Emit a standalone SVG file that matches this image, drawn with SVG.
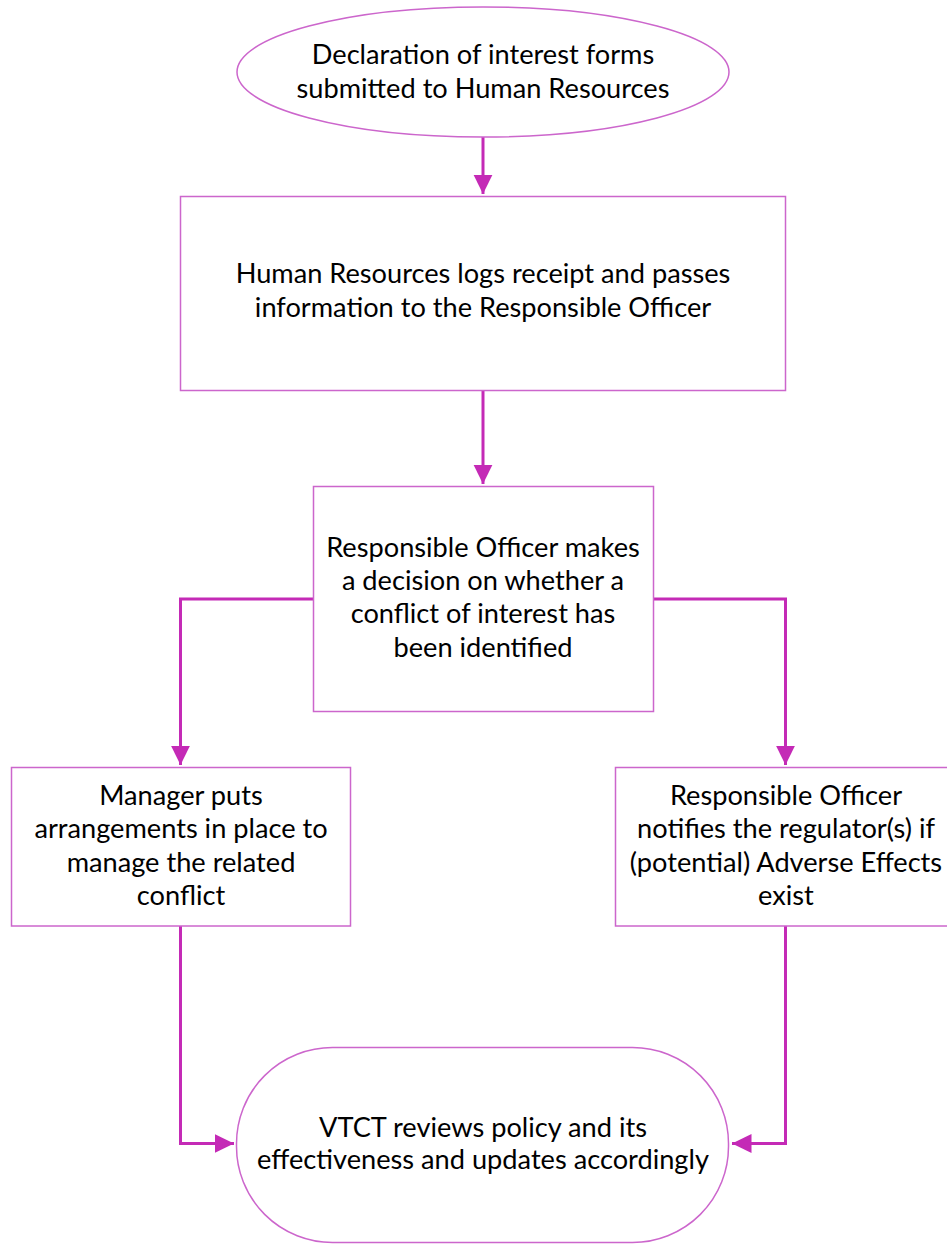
<svg xmlns="http://www.w3.org/2000/svg" width="947" height="1245" viewBox="0 0 947 1245">
  <defs>
    <marker id="arr" markerWidth="7" markerHeight="7" refX="6.5" refY="3.5" orient="auto" markerUnits="strokeWidth">
      <path d="M0,0.3 L6.5,3.5 L0,6.7 Z" fill="#c42ab6"/>
    </marker>
    <style>
      .node { fill: #ffffff; stroke: #cc66cc; stroke-width: 1.5; }
      .conn { fill: none; stroke: #c42ab6; stroke-width: 3; }
      .t { font-family: Lato, "Liberation Sans", sans-serif; font-size: 27.2px; fill: #000000; text-anchor: middle; }
    </style>
  </defs>
  <rect width="947" height="1245" fill="#ffffff"/>

  <g id="connectors">
    <path class="conn" d="M483,137 L483,194" marker-end="url(#arr)"/>
    <path class="conn" d="M483,391 L483,484" marker-end="url(#arr)"/>
    <path class="conn" d="M313,599 L180.5,599 L180.5,765" marker-end="url(#arr)"/>
    <path class="conn" d="M653,599 L785.5,599 L785.5,765" marker-end="url(#arr)"/>
    <path class="conn" d="M180.5,926 L180.5,1143.5 L234,1143.5" marker-end="url(#arr)"/>
    <path class="conn" d="M785.5,926 L785.5,1143.5 L732,1143.5" marker-end="url(#arr)"/>
  </g>

  <g id="n1">
    <ellipse class="node" cx="483" cy="72" rx="246" ry="65"/>
    <text class="t" x="483" y="64">Declaration of interest forms</text>
    <text class="t" x="483" y="98">submitted to Human Resources</text>
  </g>

  <g id="n2">
    <rect class="node" x="180.5" y="196.5" width="605" height="194"/>
    <text class="t" x="483" y="283">Human Resources logs receipt and passes</text>
    <text class="t" x="483" y="317">information to the Responsible Officer</text>
  </g>

  <g id="n3">
    <rect class="node" x="313.5" y="486.5" width="340" height="225"/>
    <text class="t" x="483" y="557">Responsible Officer makes</text>
    <text class="t" x="483" y="590">a decision on whether a</text>
    <text class="t" x="483" y="623">conflict of interest has</text>
    <text class="t" x="483" y="657">been identified</text>
  </g>

  <g id="n4">
    <rect class="node" x="11.5" y="767.5" width="339" height="158.5"/>
    <text class="t" x="181" y="805">Manager puts</text>
    <text class="t" x="181" y="838">arrangements in place to</text>
    <text class="t" x="181" y="872">manage the related</text>
    <text class="t" x="181" y="905">conflict</text>
  </g>

  <g id="n5">
    <rect class="node" x="615.5" y="767.5" width="342" height="158.5"/>
    <text class="t" x="786" y="805">Responsible Officer</text>
    <text class="t" x="786" y="838">notifies the regulator(s) if</text>
    <text class="t" x="786" y="872">(potential) Adverse Effects</text>
    <text class="t" x="786" y="905">exist</text>
  </g>

  <g id="n6">
    <rect class="node" x="236.5" y="1047.5" width="492" height="195" rx="96" ry="96"/>
    <text class="t" x="483" y="1137">VTCT reviews policy and its</text>
    <text class="t" x="483" y="1169">effectiveness and updates accordingly</text>
  </g>
</svg>
